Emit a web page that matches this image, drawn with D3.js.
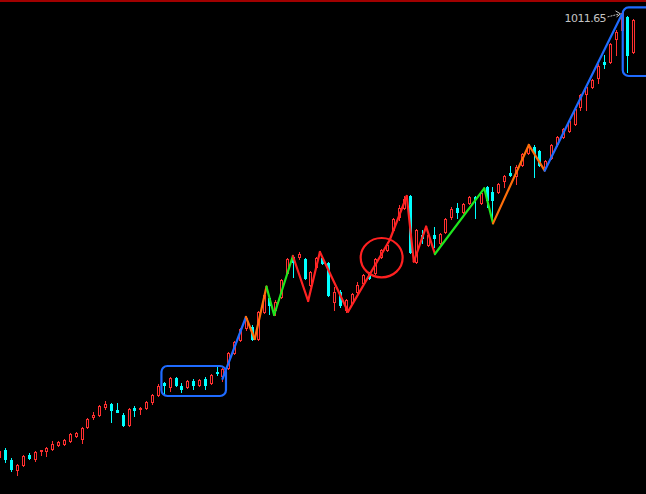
<!DOCTYPE html>
<html><head><meta charset="utf-8">
<script src="https://cdn.jsdelivr.net/npm/d3@7"></script>
<style>html,body{margin:0;padding:0;background:#000;overflow:hidden}</style>
</head><body>
<svg id="c" width="646" height="494"></svg>
<script>
// candle index (x position) starts at -1
const idx = d3.range(-1, 108);
const open = [345.5,356,341,326,333.5,348.5,342.5,354.5,354.5,357.5,363.5,365,369.5,377,372.5,390.5,405.5,408.5,420.5,425,416,408.5,393.5,419,417.5,419,428,438.5,456.5,450.5,464,452,450.5,459.5,453.5,462.5,456.5,473,467,479,501.5,521,539,540.5,522.5,563,584,566,585.5,621.5,645.5,645.5,642.5,603.5,630.5,644,636.5,578,593,566,576.5,593,606.5,621.5,621.5,645.5,656,686,705.5,719,737,638,678.5,663.5,678.5,666.5,683,705.5,719,713,726.5,735.5,726.5,750.5,743,743,759.5,771.5,767,783.5,801.5,810.5,804.5,780.5,794,815,825.5,834.5,845,870.5,890,900.5,914,938,938,972.5,986,1005.5,953];
const high = [357.5,359,344,335,348.5,351.5,354.5,356,360.5,369.5,369.5,372.5,381.5,383,390.5,404,413,423.5,429.5,426.5,426.5,411.5,419,422,420.5,429.5,440,455,458,465.5,465.5,456.5,461,462.5,462.5,465.5,470,483.5,479,503,519.5,539,557,543.5,564.5,591.5,587,581,612.5,644,645.5,653,644,624.5,645.5,647,638,600.5,596,582.5,591.5,608,620,623,644,657.5,668,704,723.5,737,738.5,687.5,686,680,690.5,681.5,704,720.5,726.5,726.5,737,737,743,752,750.5,756.5,768.5,782,783.5,801.5,813.5,813.5,806,791,815,827,839,851,869,890,902,912.5,935,948.5,966.5,986,1011.65,1007,1002.5];
const low = [342.5,338,324.5,318.5,332,342.5,339.5,348.5,347,356,362,363.5,368,375.5,366.5,389,402.5,407,417.5,398,413,392,392,407,410,417.5,425,437,440,444.5,452,443,449,447.5,452,447.5,455,468.5,459.5,477.5,500,519.5,536,521,521,561.5,560,558.5,584,620,615.5,642.5,612.5,602,629,635,587,566,570.5,563,575,591.5,605,612.5,620,644,654.5,684.5,701,717.5,651.5,636.5,666.5,662,660.5,665,681.5,702.5,704,711.5,725,704,725,720.5,704,741.5,750.5,767,755,782,800,765.5,782,776,792.5,812,824,833,843.5,866,866,899,906.5,929,936.5,948.5,984.5,923,951.5];
const close = [354.5,342.5,327.5,333.5,347,344,353,356,359,365,368,371,380,381.5,389,402.5,408.5,422,425,416,413,393.5,417.5,416,419,428,438.5,452,453.5,464,453.5,447.5,459.5,453.5,461,453.5,468.5,471.5,477.5,501.5,518,537.5,554,522.5,563,588.5,573.5,578,611,642.5,638,650,614,623,644,636.5,588.5,593,573.5,581,590,603.5,618.5,614,642.5,656,663.5,702.5,719,732.5,653,686,674,678.5,674,680,702.5,717.5,713,725,735.5,732.5,741.5,731,731,755,767,768.5,780.5,800,810.5,801.5,783.5,789.5,813.5,825.5,837.5,849.5,867.5,888.5,900.5,911,932,935,965,983,1011.5,948.5,1001];

// zigzag trend line vertices (index, price) and segment group
const zzIdx   = [37, 41, 42.5, 44.5, 45.8, 49.0, 51.6, 53.6, 58.4, 65.5, 68.4, 69.6, 71.7, 73.2, 81.6, 83.1, 89.2, 91.9, 105];
const zzPrice = [462.5, 555.5, 522.5, 601, 558.5, 647, 579.5, 653, 563.5, 671, 737, 638.5, 691, 650, 748.5, 696, 813.5, 775, 1008.5];
const zzGroup = ["up","corr","corr","sw","sw","dn","dn","dn","dn","dn","dn","dn","dn","sw","sw","corr","corr","up"];

// annotations
const boxA = {x0: 26.6, x1: 37.6, p0: 482, p1: 437};
const boxB = {x0: 105.2, x1: 111.5, p0: 1019.8, p1: 917};
const ring = {x0: 60.55, x1: 67.7, p0: 674, p1: 615};
const peakLabel = "1011.65";
const peakIdx = 105, peakPrice = 1011.65;

const W = 646, H = 494;
const svg = d3.select("#c");
svg.append("rect").attr("width", W).attr("height", H).attr("fill", "#000");

const x = d3.scaleLinear().domain([0, 107]).range([5.3, 633.3]);
const y = d3.scaleLinear().domain([1031, 290]).range([0, 494]);

const colors = {up: "#1f6bff", corr: "#ff6e0a", sw: "#1ee61e", dn: "#ff2222"};
const RED = "#ff3030", CYAN = "#00ffff";

const data = idx.map((d, i) => ({i: d, o: open[i], h: high[i], l: low[i], c: close[i]}));

const cx = v => Math.round(x(v));
const yr = v => Math.round(y(v));
const g = svg.append("g").attr("shape-rendering", "crispEdges");
// wicks
g.selectAll("rect.w").data(data).join("rect")
  .attr("x", d => cx(d.i)).attr("width", 1)
  .attr("y", d => yr(d.h)).attr("height", d => Math.max(1, yr(d.l) - yr(d.h) + 1))
  .attr("fill", d => d.c >= d.o ? RED : CYAN);
// bodies
const up = data.filter(d => d.c >= d.o), dn = data.filter(d => d.c < d.o);
g.selectAll("rect.u").data(up).join("rect")
  .attr("x", d => cx(d.i) - 0.5).attr("width", 2)
  .attr("y", d => yr(d.c) + 0.5)
  .attr("height", d => Math.max(1, yr(d.o) - yr(d.c)))
  .attr("fill", "#000").attr("stroke", RED).attr("stroke-width", 1);
g.selectAll("rect.d").data(dn).join("rect")
  .attr("x", d => cx(d.i) - 1).attr("width", 3)
  .attr("y", d => yr(d.o))
  .attr("height", d => Math.max(1, yr(d.c) - yr(d.o) + 1))
  .attr("fill", CYAN);

// zigzag
const segs = zzGroup.map((gr, k) => ({gr, a: k, b: k + 1}));
svg.append("g").selectAll("line").data(segs).join("line")
  .attr("x1", d => x(zzIdx[d.a])).attr("y1", d => y(zzPrice[d.a]))
  .attr("x2", d => x(zzIdx[d.b])).attr("y2", d => y(zzPrice[d.b]))
  .attr("stroke", d => colors[d.gr]).attr("stroke-width", 2.2)
  .attr("stroke-linecap", "round");

// boxes
[boxA, boxB].forEach(b => {
  svg.append("rect")
    .attr("x", x(b.x0)).attr("y", y(b.p0))
    .attr("width", x(b.x1) - x(b.x0)).attr("height", y(b.p1) - y(b.p0))
    .attr("rx", 6).attr("fill", "none").attr("stroke", colors.up).attr("stroke-width", 2.2);
});
svg.append("ellipse")
  .attr("cx", (x(ring.x0) + x(ring.x1)) / 2).attr("cy", (y(ring.p0) + y(ring.p1)) / 2)
  .attr("rx", (x(ring.x1) - x(ring.x0)) / 2).attr("ry", (y(ring.p1) - y(ring.p0)) / 2)
  .attr("fill", "none").attr("stroke", "#ff2020").attr("stroke-width", 2.2);

// top border
svg.append("line").attr("x1", 0).attr("x2", W).attr("y1", 1).attr("y2", 1)
  .attr("stroke", "#a00000").attr("stroke-width", 2);

// peak label
const tx = x(peakIdx) - 15, ty = y(peakPrice);
svg.append("text").attr("x", tx).attr("y", ty + 9)
  .attr("text-anchor", "end").attr("fill", "#c4c4c4")
  .attr("font-family", "DejaVu Sans, sans-serif").attr("font-size", 11)
  .attr("textLength", 42).attr("lengthAdjust", "spacing")
  .text(peakLabel);
svg.append("line").attr("x1", tx + 1).attr("y1", ty + 4).attr("x2", x(peakIdx) - 2).attr("y2", ty + 1)
  .attr("stroke", "#c4c4c4").attr("stroke-width", 1).attr("stroke-dasharray", "2,1");
svg.append("path")
  .attr("d", `M${x(peakIdx) - 6},${ty - 2} L${x(peakIdx) - 1},${ty + 1} L${x(peakIdx) - 5},${ty + 4}`)
  .attr("fill", "none").attr("stroke", "#c4c4c4").attr("stroke-width", 1);
</script>
</body></html>
